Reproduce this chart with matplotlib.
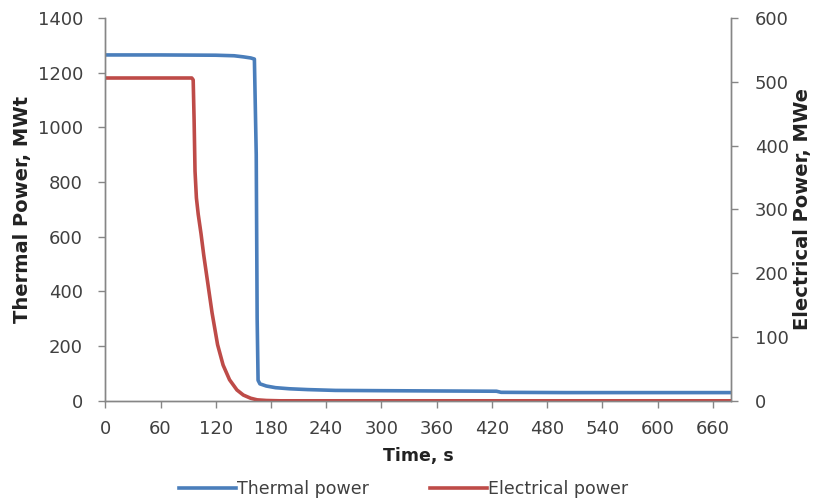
import numpy as np
import matplotlib
matplotlib.use("Agg")
from matplotlib import pyplot as plt

# thermal power, MWt (left axis)
t_thermal = [0, 60, 120, 140, 150, 158, 162, 164, 165, 166, 168, 175, 185, 200, 220, 250, 300, 360, 425, 430, 500, 600, 680]
p_thermal = [1265, 1265, 1264, 1262, 1258, 1254, 1250, 900, 300, 75, 62, 54, 48, 44, 41, 38, 37, 36, 35, 31, 30, 30, 30]

# electrical power, MWe (right axis)
t_elec = [0, 60, 94, 95.5, 96.5, 97.5, 99, 101, 104, 107, 111, 116, 122, 128, 135, 143, 150, 158, 165, 175, 190, 250, 400, 680]
p_elec = [506, 506, 506, 503, 440, 360, 318, 292, 262, 228, 188, 138, 88, 56, 33, 17, 9, 4, 1.5, 0.5, 0, 0, 0, 0]

x_ticks = np.arange(0, 661, 60)
blue = "#4a7ebb"
red = "#be4b48"
grey = "#868686"
txt = "#404040"

fig = plt.figure(figsize=(8.29, 5.01), dpi=100)
ax = fig.add_axes([0.127, 0.2, 0.755, 0.764])
ax2 = ax.twinx()

l1, = ax.plot(t_thermal, p_thermal, color=blue, lw=2.6, solid_joinstyle="round")
l2, = ax2.plot(t_elec, p_elec, color=red, lw=2.6, solid_joinstyle="round")

ax.set_xlim(0, 680)
ax.set_ylim(0, 1400)
ax2.set_ylim(0, 600)
ax.set_xticks(x_ticks)
ax.set_yticks(np.arange(0, 1401, 200))
ax2.set_yticks(np.arange(0, 601, 100))

for a in (ax, ax2):
    a.spines["top"].set_visible(False)
    for s in ("left", "right", "bottom"):
        a.spines[s].set_color(grey)
        a.spines[s].set_linewidth(1.0)
    a.tick_params(colors=grey, labelcolor=txt, labelsize=13, length=5, width=1)

ax.tick_params(axis="x", pad=9)
ax.tick_params(axis="y", pad=11)
ax2.tick_params(axis="y", pad=12)

lab_font = dict(fontsize=12.5, fontweight="bold", color="#222222")
ylab_font = dict(fontsize=14, fontweight="bold", color="#222222")
ax.set_ylabel("Thermal Power, MWt", labelpad=4, **ylab_font)
ax2.set_ylabel("Electrical Power, MWe", labelpad=3, **ylab_font)
ax.set_xlabel("Time, s", labelpad=6, **lab_font)

fig.legend([l1, l2], ["Thermal power", "Electrical power"],
           loc="lower center", bbox_to_anchor=(0.487, -0.025), ncol=2,
           frameon=False, fontsize=12.5, handlelength=3.3, handletextpad=0.05,
           columnspacing=3.5, labelcolor=txt)

fig.savefig("out.png", dpi=100)
